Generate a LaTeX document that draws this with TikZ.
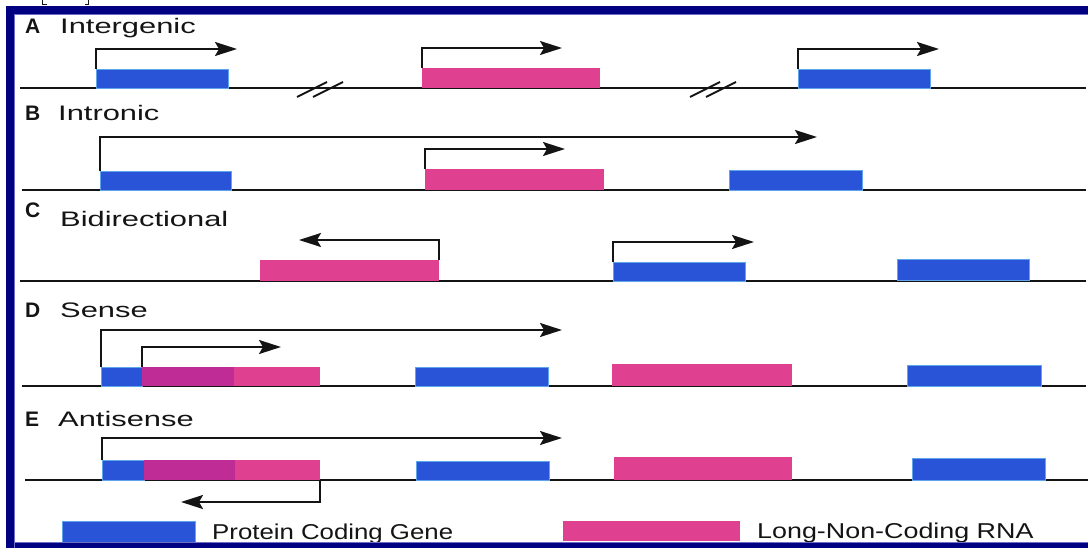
\documentclass[tikz,border=0pt]{standalone}
\usepackage{fontspec}
\setmainfont{Liberation Sans}
\usetikzlibrary{arrows.meta}

\definecolor{pcg}{RGB}{42,84,216}
\definecolor{pcgedge}{RGB}{95,165,235}
\definecolor{lnc}{RGB}{224,64,144}
\definecolor{ovl}{RGB}{192,44,150}
\definecolor{framecol}{RGB}{0,0,128}
\definecolor{frameedge}{RGB}{110,110,200}
\definecolor{ink}{RGB}{20,20,20}

\tikzset{
  dna/.style={draw=ink, line width=2},
  tss/.style={draw=ink, line width=2, -{Stealth[length=22, width=14, inset=4]}},
  brk/.style={draw=ink, line width=1.8},
  bar/.style={rectangle, inner sep=0, outer sep=0, anchor=south west},
  pcgbar/.style={bar, fill=pcg, draw=pcgedge, line width=0.7},
  lncbar/.style={bar, fill=lnc},
  ovlbar/.style={bar, fill=ovl},
  rowkey/.style={anchor=base west, inner sep=0, text=ink, font=\fontsize{21}{23}\selectfont\bfseries},
  rowname/.style={anchor=base west, inner sep=0, text=ink, font=\fontsize{21}{24}\selectfont},
  legtext/.style={anchor=base west, inner sep=0, text=ink, font=\fontsize{21.5}{24}\selectfont},
}
\newcommand{\wide}[1]{\scalebox{1.47}[1]{#1}}

\begin{document}
\begin{tikzpicture}[x=1pt, y=-1pt]
\useasboundingbox (0,0) rectangle (1088,548);

% ---------- A: intergenic ----------
\node[rowkey] (ka) at (25,34) {A};
\node[rowname] (na) at (60,34) {\wide{Intergenic}};
\coordinate (aL) at (20,88);
\coordinate (aR) at (1086,88);
\draw[dna] (aL) -- (aR);
\coordinate (s1a) at (297,97); \coordinate (s1b) at (327,82);
\coordinate (s2a) at (313,97); \coordinate (s2b) at (343,82);
\coordinate (s3a) at (690,97); \coordinate (s3b) at (720,82);
\coordinate (s4a) at (706,97); \coordinate (s4b) at (736,82);
\draw[brk] (s1a) -- (s1b);
\draw[brk] (s2a) -- (s2b);
\draw[brk] (s3a) -- (s3b);
\draw[brk] (s4a) -- (s4b);
\node[pcgbar, minimum width=132, minimum height=19] (a1) at (96,88) {};
\node[lncbar, minimum width=178, minimum height=20] (a2) at (422,88) {};
\node[pcgbar, minimum width=132, minimum height=19] (a3) at (798,88) {};
\coordinate (a1t) at (237,49);
\coordinate (a2t) at (562,48);
\coordinate (a3t) at (939,49);
\draw[tss] (a1.north west) |- (a1t);
\draw[tss] (a2.north west) |- (a2t);
\draw[tss] (a3.north west) |- (a3t);

% ---------- B: intronic ----------
\node[rowkey] (kb) at (25,121) {B};
\node[rowname] (nb) at (58,121) {\wide{Intronic}};
\coordinate (bL) at (22,190);
\coordinate (bR) at (1086,190);
\draw[dna] (bL) -- (bR);
\node[pcgbar, minimum width=131, minimum height=19] (b1) at (100,190) {};
\node[lncbar, minimum width=179, minimum height=21] (b2) at (425,190) {};
\node[pcgbar, minimum width=133, minimum height=20] (b3) at (729,190) {};
\coordinate (b1t) at (817,137);
\coordinate (b2t) at (565,149);
\draw[tss] (b1.north west) |- (b1t);
\draw[tss] (b2.north west) |- (b2t);

% ---------- C: bidirectional ----------
\node[rowkey] (kc) at (25,218) {C};
\node[rowname] (nc) at (60,227) {\wide{Bidirectional}};
\coordinate (cL) at (20,281);
\coordinate (cR) at (1086,281);
\draw[dna] (cL) -- (cR);
\node[lncbar, minimum width=179, minimum height=21] (c1) at (260,281) {};
\node[pcgbar, minimum width=132, minimum height=19] (c2) at (613,281) {};
\node[pcgbar, minimum width=132, minimum height=21] (c3) at (897,280) {};
\coordinate (c1t) at (299,240);
\coordinate (c2t) at (754,242);
\draw[tss] (c1.north east) |- (c1t);
\draw[tss] (c2.north west) |- (c2t);

% ---------- D: sense ----------
\node[rowkey] (kd) at (25,318) {D};
\node[rowname] (nd) at (60,318) {\wide{Sense}};
\coordinate (dL) at (22,386);
\coordinate (dR) at (1086,386);
\draw[dna] (dL) -- (dR);
\node[pcgbar, minimum width=41, minimum height=19] (d1) at (101,386) {};
\node[ovlbar, minimum width=92, minimum height=19] (d2) at (142,386) {};
\node[lncbar, minimum width=86, minimum height=19] (d3) at (234,386) {};
\node[pcgbar, minimum width=133, minimum height=19] (d4) at (415,386) {};
\node[lncbar, minimum width=180, minimum height=22] (d5) at (612,386) {};
\node[pcgbar, minimum width=134, minimum height=21] (d6) at (907,386) {};
\coordinate (d1t) at (562,330);
\coordinate (d2t) at (281,347);
\draw[tss] (d1.north west) |- (d1t);
\draw[tss] (d2.north west) |- (d2t);

% ---------- E: antisense ----------
\node[rowkey] (ke) at (25,426) {E};
\node[rowname] (ne) at (58,426) {\wide{Antisense}};
\coordinate (eL) at (25,480);
\coordinate (eR) at (1088,480);
\draw[dna] (eL) -- (eR);
\node[pcgbar, minimum width=42, minimum height=20] (e1) at (102,480) {};
\node[ovlbar, minimum width=91, minimum height=20] (e2) at (144,480) {};
\node[lncbar, minimum width=85, minimum height=20] (e3) at (235,480) {};
\node[pcgbar, minimum width=133, minimum height=19] (e4) at (416,480) {};
\node[lncbar, minimum width=178, minimum height=23] (e5) at (614,480) {};
\node[pcgbar, minimum width=133, minimum height=22] (e6) at (912,480) {};
\coordinate (e1t) at (562,438);
\coordinate (e3t) at (181,502);
\draw[tss] (e1.north west) |- (e1t);
\draw[tss] (e3.south east) |- (e3t);

% ---------- legend ----------
\node[pcgbar, minimum width=133, minimum height=21] (k1) at (62,542) {};
\node[legtext] (t1) at (212,539) {\scalebox{1.2}[1]{Protein Coding Gene}};
\node[lncbar, minimum width=177, minimum height=20] (k2) at (563,541) {};
\node[legtext] (t2) at (757,538) {\scalebox{1.25}[1]{Long-Non-Coding RNA}};

% ---------- frame ----------
\fill[framecol] (6,6) rectangle (1088,14);
\fill[framecol] (6,6) rectangle (14,548);
\fill[framecol] (6,543) rectangle (1088,548);
\draw[frameedge, line width=0.8] (14,548) -- (14,14.4) -- (1088,14.4);
\draw[frameedge, line width=0.8] (14,542.6) -- (1088,542.6);

% bracket fragments above the frame
\draw[ink, line width=1] (42.5,0) -- (42.5,4.5) -- (46.5,4.5);
\draw[ink, line width=1] (88.5,0) -- (88.5,4.5) -- (84.5,4.5);
\end{tikzpicture}
\end{document}
